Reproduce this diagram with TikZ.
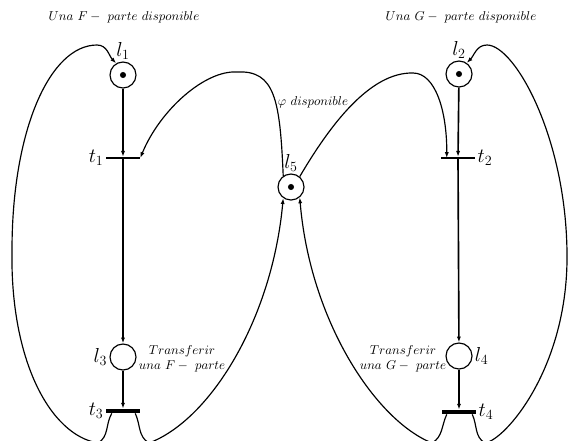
\documentclass[tikz,border=0pt]{standalone}
\usetikzlibrary{calc, arrows.meta}

\begin{document}
\begin{tikzpicture}[
  x=0.03cm, y=-0.03cm,
  >={Latex[length=5pt, width=3.5pt]}, line width=1pt,
  place/.style    = {draw, circle, minimum size=0.78cm, inner sep=0pt},
  marked/.style   = {path picture={\fill (path picture bounding box.center) circle (2.6pt);}},
  bar/.style      = {fill, rectangle, minimum width=1cm, minimum height=1pt, inner sep=0pt},
  thickbar/.style = {bar, minimum height=3pt},
  lbl/.style      = {font=\LARGE, inner sep=1.5pt},
  note/.style     = {font=\fontsize{10.95}{13}\selectfont, align=center, inner sep=0pt},
]
  \useasboundingbox (0,0) rectangle (569,440);

  % places and transitions
  \node[place, marked, label={[lbl]above:$l_1$}] (l1) at (123,75)  {};
  \node[bar,           label={[lbl]left:$t_1$}]  (t1) at (123,158) {};
  \node[place,         label={[lbl]left:$l_3$}]  (l3) at (123,357) {};
  \node[thickbar,      label={[lbl]left:$t_3$}]  (t3) at (123,411) {};
  \node[place, marked, label={[lbl]above:$l_5$}] (l5) at (291,187) {};
  \node[place, marked, label={[lbl]above:$l_2$}] (l2) at (459,74)  {};
  \node[bar,           label={[lbl]right:$t_2$}] (t2) at (458,158) {};
  \node[place,         label={[lbl]right:$l_4$}] (l4) at (459,356) {};
  \node[thickbar,      label={[lbl]right:$t_4$}] (t4) at (459,412) {};

  % texts
  \node[note] (dispF)   at (124,17)  {$Una\ F-\ parte\ disponible$};
  \node[note] (dispG)   at (461,17)  {$Una\ G-\ parte\ disponible$};
  \node[note] (dispphi) at (313,102) {$\varphi\ disponible$};
  \node[note] (transF)  at (182,359) {$Transferir$\\$una\ F-\ parte$};
  \node[note] (transG)  at (403,359) {$Transferir$\\$una\ G-\ parte$};

  % straight arcs
  \draw[->] (l1) -- (t1);
  \draw[->] (t1) -- (l3);
  \draw[->] (l3) -- (t3);
  \draw[->, line width=1.4pt] (l2) -- (t2);
  \draw[->, line width=1.4pt] (t2) -- (l4);
  \draw[->, line width=1.4pt] (l4) -- (t4);

  % loops
  \coordinate (loopFl) at (98,443);
  \coordinate (sideFl) at (12,250);
  \coordinate (peakFl) at (97,45);
  \coordinate (loopFr) at (149,443);
  \coordinate (peakL)  at (237,72);
  \coordinate (peakR)  at (413,73);
  \coordinate (loopGl) at (432,443);
  \coordinate (loopGr) at (485,443);
  \coordinate (sideGr) at (567,260);
  \coordinate (peakGr) at (487,45);

  \draw[->] ($(t3.south west)+(6,0)$) to[out=-120,in=30] (loopFl)
    .. controls (50,435) and (10,360) .. (sideFl)
    .. controls (12,130) and (50,45) .. (peakFl) to[out=0,in=135] (l1.120);
  \draw[->] ($(t3.south east)+(-5,0)$) to[out=-65,in=150] (loopFr)
    .. controls (210,420) and (272,320) .. (l5.-125);
  \draw[->] (l5.125) .. controls (280,100) and (275,70) .. (peakL)
    .. controls (205,70) and (160,110) .. (t1.east);
  \draw[->] (l5.50) .. controls (330,125) and (370,72) .. (peakR)
    .. controls (435,73) and (447,110) .. ($(t2.west)+(6,0)$);
  \draw[->] ($(t4.south west)+(5,0)$) to[out=-115,in=30] (loopGl)
    .. controls (375,420) and (310,320) .. (l5.-50);
  \draw[->] ($(t4.south east)+(-4,0)$) to[out=-65,in=150] (loopGr)
    .. controls (505,440) and (566,370) .. (sideGr)
    .. controls (568,140) and (515,45) .. (peakGr) to[out=180,in=45] (l2.55);
\end{tikzpicture}
\end{document}
